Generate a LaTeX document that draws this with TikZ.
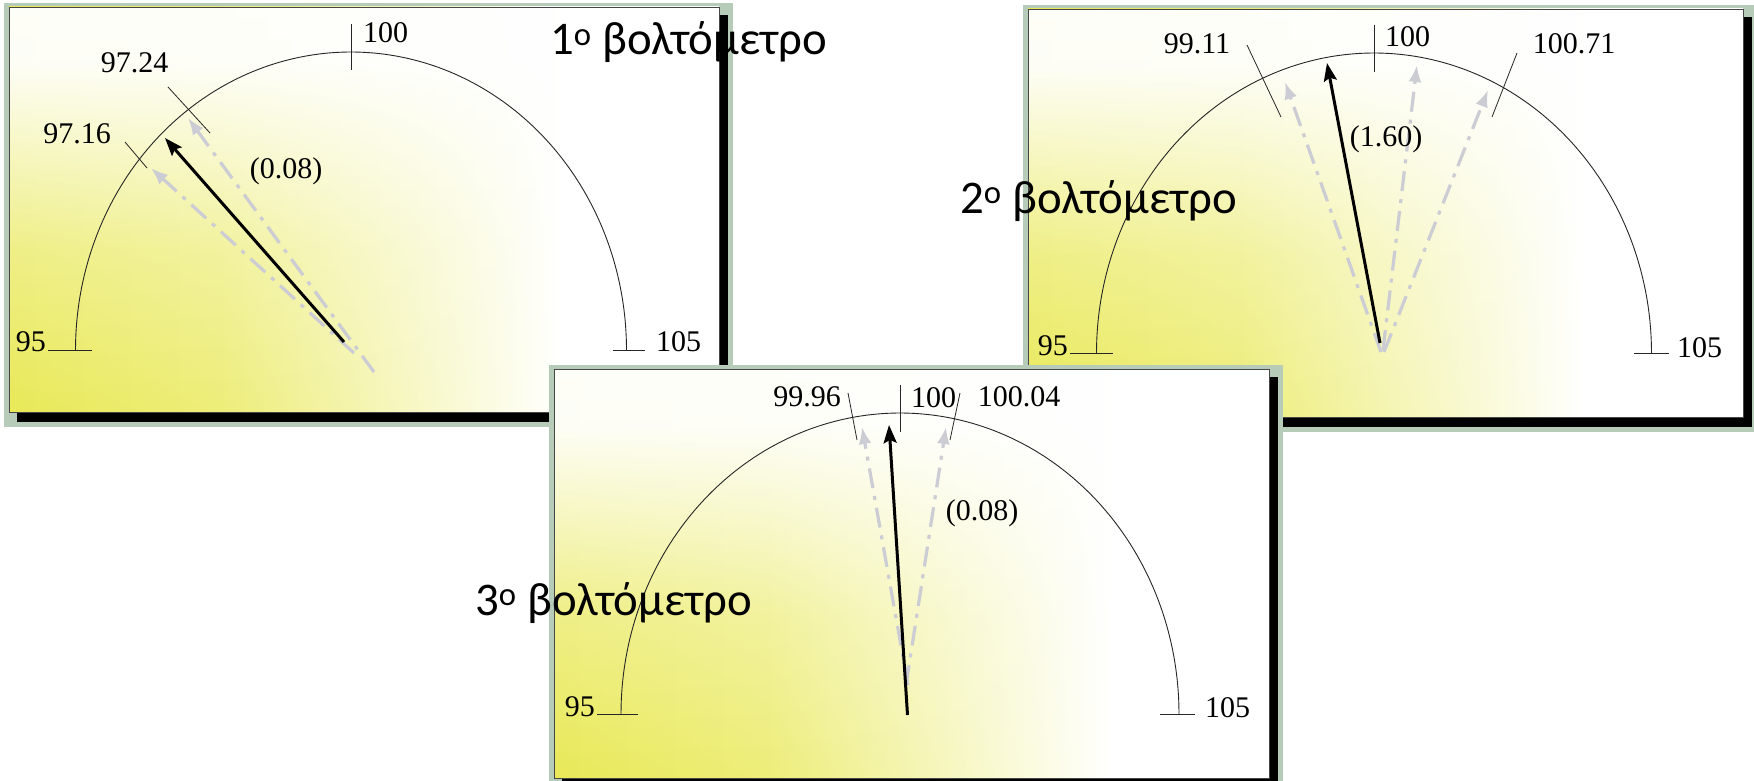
\documentclass[tikz,border=0pt]{standalone}
\usepackage{fontspec}
\setmainfont{Liberation Serif}
\newfontfamily\titlefont{Carlito}
\usetikzlibrary{arrows.meta,fadings}

\definecolor{yel}{RGB}{233,233,88}
\definecolor{glowc}{RGB}{183,203,185}
\definecolor{frm}{RGB}{70,70,70}
\definecolor{ptr}{RGB}{204,204,212}

\pgfdeclarehorizontalshading{panelsh}{100bp}{color(0bp)=(yel); color(25bp)=(yel); color(40bp)=(yel!80!white); color(64bp)=(white); color(100bp)=(white)}
\pgfdeclareverticalshading{topfadesh}{100bp}{color(0bp)=(pgftransparent!100); color(25bp)=(pgftransparent!100); color(45bp)=(pgftransparent!72); color(68bp)=(pgftransparent!5); color(100bp)=(pgftransparent!0)}
\pgfdeclarefading{topwhite}{\pgfuseshading{topfadesh}}

\newcommand\mypanel[4]{%
  \fill[glowc] (#1-5,#2-4) rectangle (#3+14,#4+15);
  \fill[black] (#1+8,#2+8) rectangle (#3+9,#4+10);
  \shade[shading=panelsh] (#1,#2) rectangle (#3,#4);
  \fill[white, path fading=topwhite] (#1,#2) rectangle (#3,#4);
  \draw[frm, line width=0.8pt] (#1,#2) rectangle (#3,#4);
}

\tikzset{
  dial/.style={line width=0.9pt, black!85},
  tickln/.style={line width=0.8pt, black!85},
  val/.style={font=\fontsize{30}{32}\selectfont, inner sep=0pt},
  needle/.style={line width=3pt, -{Stealth[length=18pt,width=13pt,inset=3pt]}},
  ghost/.style={ptr, line width=3.2pt, dash pattern=on 20pt off 8pt on 4pt off 8pt, -{Latex[length=17pt,width=13pt]}},
  ttl/.style={font=\titlefont\fontsize{46.8}{54}\selectfont, inner sep=0pt, anchor=base west},
}

\begin{document}
\begin{tikzpicture}[x=1pt,y=-1pt]
\useasboundingbox (0,0) rectangle (1754,781);
\fill[white] (0,0) rectangle (1754,781);

% ---------------- Panel 1 ----------------
\mypanel{9}{7}{719}{412}
\draw[dial] plot[domain=180:360, samples=120, smooth] ({351+275.5*cos(\x)},{350+298*sin(\x)});
\coordinate (a95) at (48,350);   \coordinate (b95) at (92,350);
\coordinate (a105) at (613,350); \coordinate (b105) at (645,350);
\coordinate (a100) at (351,24);  \coordinate (b100) at (351,70);
\coordinate (aT1) at (168,87);   \coordinate (bT1) at (210,133);
\coordinate (aT2) at (125,142);  \coordinate (bT2) at (147,168);
\draw[tickln] (a95) -- (b95);
\draw[tickln] (a105) -- (b105);
\draw[tickln] (a100) -- (b100);
\draw[tickln] (aT1) -- (bT1);
\draw[tickln] (aT2) -- (bT2);
\coordinate (g1s) at (374,372); \coordinate (g1e) at (188,118);
\coordinate (g2s) at (354,353); \coordinate (g2e) at (151,168);
\coordinate (n1s) at (344,342); \coordinate (n1e) at (165,138);
\draw[ghost] (g1s) -- (g1e);
\draw[ghost] (g2s) -- (g2e);
\draw[needle] (n1s) -- (n1e);
\node[val, anchor=base west] (l1a) at (363,43) {100};
\node[val] (l1b) at (134.5,62.5) {97.24};
\node[val] (l1c) at (77,134) {97.16};
\node[val, anchor=base east] (l1d) at (46,351) {95};
\node[val, anchor=base west] (l1e) at (656,351) {105};
\node[val] (l1f) at (286,171) {(0.08)};

% ---------------- Panel 2 ----------------
\mypanel{1028}{9}{1743}{417}
\draw[dial] plot[domain=180:360, samples=120, smooth] ({1374+277.5*cos(\x)},{353+300*sin(\x)});
\coordinate (c95) at (1070,353);  \coordinate (d95) at (1113,353);
\coordinate (c105) at (1634,353); \coordinate (d105) at (1669,353);
\coordinate (c100) at (1374,25);  \coordinate (d100) at (1374,72);
\coordinate (cT1) at (1247,45);   \coordinate (dT1) at (1281,117);
\coordinate (cT2) at (1517,53);   \coordinate (dT2) at (1492,117);
\draw[tickln] (c95) -- (d95);
\draw[tickln] (c105) -- (d105);
\draw[tickln] (c100) -- (d100);
\draw[tickln] (cT1) -- (dT1);
\draw[tickln] (cT2) -- (dT2);
\coordinate (h1s) at (1381,352); \coordinate (h1e) at (1285,82);
\coordinate (h2s) at (1383,350); \coordinate (h2e) at (1417,65);
\coordinate (h3s) at (1384,352); \coordinate (h3e) at (1488,90);
\coordinate (n2s) at (1380,343); \coordinate (n2e) at (1327,63);
\draw[ghost] (h1s) -- (h1e);
\draw[ghost] (h2s) -- (h2e);
\draw[ghost] (h3s) -- (h3e);
\draw[needle] (n2s) -- (n2e);
\node[val, anchor=base west] (l2a) at (1385,47) {100};
\node[val] (l2b) at (1197,44) {99.11};
\node[val] (l2c) at (1574,44) {100.71};
\node[val, anchor=base east] (l2d) at (1068,355) {95};
\node[val, anchor=base west] (l2e) at (1677,357) {105};
\node[val] (l2f) at (1386,139) {(1.60)};

% ---------------- Panel 3 ----------------
\mypanel{554}{369}{1269}{778}
\draw[dial] plot[domain=180:360, samples=120, smooth] ({900+279*cos(\x)},{714+301*sin(\x)});
\coordinate (e95) at (597,714);   \coordinate (f95) at (638,714);
\coordinate (e105) at (1160,714); \coordinate (f105) at (1195,714);
\coordinate (e100) at (900,385);  \coordinate (f100) at (900,432);
\coordinate (eT1) at (848,393);   \coordinate (fT1) at (857,440);
\coordinate (eT2) at (960,393);   \coordinate (fT2) at (950,440);
\draw[tickln] (e95) -- (f95);
\draw[tickln] (e105) -- (f105);
\draw[tickln] (e100) -- (f100);
\draw[tickln] (eT1) -- (fT1);
\draw[tickln] (eT2) -- (fT2);
\coordinate (k1s) at (908,685); \coordinate (k1e) at (862,427);
\coordinate (k2s) at (906,685); \coordinate (k2e) at (946,427);
\coordinate (n3s) at (907.5,715); \coordinate (n3e) at (889,425);
\draw[ghost] (k1s) -- (k1e);
\draw[ghost] (k2s) -- (k2e);
\draw[needle] (n3s) -- (n3e);
\node[val, anchor=base west] (l3a) at (911,407) {100};
\node[val] (l3b) at (807,397) {99.96};
\node[val] (l3c) at (1019,397) {100.04};
\node[val, anchor=base east] (l3d) at (595,716) {95};
\node[val, anchor=base west] (l3e) at (1205,717) {105};
\node[val] (l3f) at (982,513) {(0.08)};

% ---------------- Titles ----------------
\node[ttl] (t1) at (550,55) {1\textsuperscript{o} βολτόμετρο};
\node[ttl] (t2) at (960,213) {2\textsuperscript{o} βολτόμετρο};
\node[ttl] (t3) at (475,615) {3\textsuperscript{o} βολτόμετρο};
\end{tikzpicture}
\end{document}
